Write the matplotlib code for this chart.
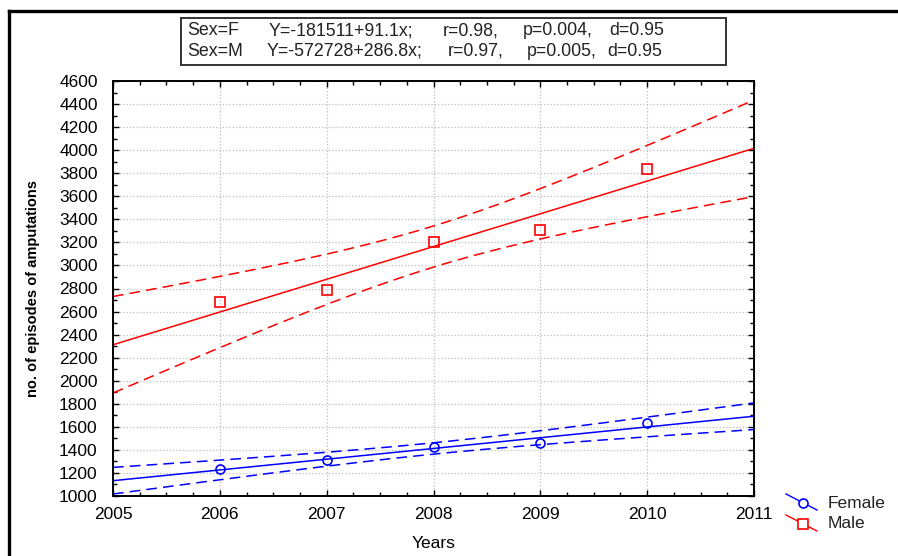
# plot.py

import matplotlib.pyplot as plt
import numpy as np
from matplotlib.lines import Line2D
from matplotlib.patches import Rectangle
from matplotlib.ticker import MultipleLocator

# data
years = [2006, 2007, 2008, 2009, 2010]
female = [1235, 1315, 1425, 1457, 1630]
male = [2680, 2790, 3200, 3310, 3840]

female_eq = ['Sex=F', 'Y=-181511+91.1x;', 'r=0.98,', 'p=0.004,', 'd=0.95']
male_eq = ['Sex=M', 'Y=-572728+286.8x;', 'r=0.97,', 'p=0.005,', 'd=0.95']

T_975_DF3 = 3.182  # t quantile for 95% band, n-2 = 3


def fit_band(x, y, xs):
    """Linear fit plus 95% confidence band for the mean."""
    x = np.asarray(x, float)
    y = np.asarray(y, float)
    b, a = np.polyfit(x, y, 1)
    resid = y - (a + b * x)
    s = np.sqrt(np.sum(resid ** 2) / (len(x) - 2))
    sxx = np.sum((x - x.mean()) ** 2)
    fit = a + b * xs
    half = T_975_DF3 * s * np.sqrt(1 / len(x) + (xs - x.mean()) ** 2 / sxx)
    return fit, fit - half, fit + half


def plot_chart():
    plt.rcParams['font.family'] = ['Liberation Sans', 'DejaVu Sans']

    W, H = 898, 556
    fig = plt.figure(figsize=(W / 100, H / 100), dpi=100)
    ax = fig.add_axes([113 / W, 1 - 496 / H, (754 - 113) / W, (496 - 81) / H])

    xs = np.linspace(2005, 2011, 200)
    for vals, col, mk in [(female, 'blue', 'o'), (male, 'red', 's')]:
        fit, lo, hi = fit_band(years, vals, xs)
        ax.plot(xs, fit, color=col, lw=1.1)
        ax.plot(xs, lo, color=col, lw=1.1, dashes=(7, 4))
        ax.plot(xs, hi, color=col, lw=1.1, dashes=(7, 4))
        ax.plot(years, vals, mk, mfc='none', mec=col, mew=1.2, ms=6.5,
                linestyle='none')

    ax.set_xlim(2005, 2011)
    ax.set_ylim(1000, 4600)
    ax.xaxis.set_major_locator(MultipleLocator(1))
    ax.xaxis.set_minor_locator(MultipleLocator(0.25))
    ax.yaxis.set_major_locator(MultipleLocator(200))
    ax.yaxis.set_minor_locator(MultipleLocator(100))
    ax.tick_params(which='both', direction='in', top=True, right=True,
                   length=4, width=1, labelsize=12.5)
    ax.tick_params(axis='y', pad=11)
    ax.tick_params(axis='x', pad=8)
    ax.tick_params(which='minor', length=3)
    ax.grid(True, which='major', color='#bdbdbd', linestyle=':', lw=0.9)
    for sp in ax.spines.values():
        sp.set_linewidth(1.4)

    ax.set_xlabel('Years', fontsize=12.5, labelpad=10)
    ax.set_ylabel('no. of episodes of amputations', fontsize=10.5,
                  fontweight='bold', labelpad=14)

    # equation box
    fig.add_artist(Rectangle((181 / W, 1 - 65 / H), (726 - 181) / W, 47 / H,
                             transform=fig.transFigure, fill=False,
                             edgecolor='#333333', lw=1.4))
    cols1 = [187, 269, 443, 523, 609]
    cols2 = [187, 267, 448, 527, 607]
    for row, cols, yy in [(female_eq, cols1, 30.5), (male_eq, cols2, 51.5)]:
        for txt, cx in zip(row, cols):
            fig.text(cx / W, 1 - yy / H, txt, fontsize=12.8, va='center',
                     ha='left', color='#222222')

    # legend drawn at the lower right, outside the axes
    for name, col, mk, y0 in [('Female', 'blue', 'o', 494),
                              ('Male', 'red', 's', 515)]:
        fig.add_artist(Line2D([786 / W, 817 / W], [1 - y0 / H, 1 - (y0 + 16) / H],
                              color=col, lw=1.0))
        fig.add_artist(Line2D([803 / W], [1 - (y0 + 9) / H], marker=mk,
                              mfc='white', mec=col, mew=1.2, ms=6.5))
        fig.text(828 / W, 1 - (y0 + 9) / H, name, fontsize=12.5, va='center',
                 ha='left', color='#222222')

    # frame lines at top and left
    fig.add_artist(Line2D([9 / W, 1], [1 - 11 / H, 1 - 11 / H], color='black', lw=2.4))
    fig.add_artist(Line2D([9 / W, 9 / W], [0, 1 - 11 / H], color='black', lw=2.4))

    plt.savefig('out.png', dpi=100)


if __name__ == "__main__":
    plot_chart()
